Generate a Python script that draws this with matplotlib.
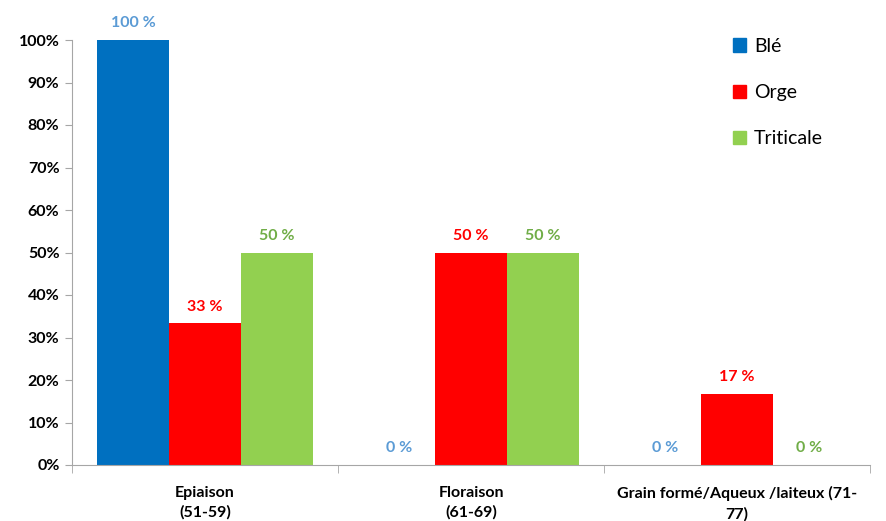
import numpy as np
import matplotlib.pyplot as plt
from matplotlib.patches import Patch
from matplotlib.ticker import FixedLocator, NullFormatter

plt.rcParams['font.family'] = ['Lato', 'DejaVu Sans']

categories = ["Epiaison\n(51-59)", "Floraison\n(61-69)", "Grain formé/Aqueux /laiteux (71-\n77)"]
series = ["Blé", "Orge", "Triticale"]
ble = [100.0, 0.0, 0.0]
orge = [33.3, 50.0, 16.7]
triticale = [50.0, 50.0, 0.0]
labels_ble = ["100 %", "0 %", "0 %"]
labels_orge = ["33 %", "50 %", "17 %"]
labels_triticale = ["50 %", "50 %", "0 %"]

bar_colors = ["#0070C0", "#FF0000", "#92D050"]
text_colors = ["#5B9BD5", "#FF0000", "#70AD47"]


def main():
    fig = plt.figure(figsize=(8.86, 5.21), dpi=100)
    ax = fig.add_axes([72 / 886, 1 - 465 / 521, (870 - 72) / 886, 425 / 521])

    x = np.arange(len(categories))
    width = 0.27
    data = [ble, orge, triticale]
    labs = [labels_ble, labels_orge, labels_triticale]
    for i, vals in enumerate(data):
        pos = x + (i - 1) * width
        ax.bar(pos, vals, width, color=bar_colors[i], label=series[i])
        for p, v, t in zip(pos, vals, labs[i]):
            ax.annotate(t, (p, v), xytext=(0, 7), textcoords="offset points",
                        ha="center", va="bottom", fontsize=11.5,
                        fontweight="bold", color=text_colors[i])

    ax.set_xlim(-0.5, len(categories) - 0.5)
    ax.set_ylim(0, 100)
    ax.set_yticks(np.arange(0, 101, 10))
    ax.set_yticklabels([f"{v}%" for v in range(0, 101, 10)],
                       fontsize=11.5, fontweight="bold")

    # category labels without ticks, separators as ticks
    ax.set_xticks(x)
    ax.set_xticklabels(categories, fontsize=11.5, fontweight="bold", linespacing=1.5)
    ax.tick_params(axis="x", which="major", length=0, pad=15)
    ax.xaxis.set_minor_locator(FixedLocator(np.arange(-0.5, len(categories), 1)))
    ax.xaxis.set_minor_formatter(NullFormatter())
    ax.tick_params(axis="x", which="minor", length=6, color="#A6A6A6")
    ax.tick_params(axis="y", length=5, color="#A6A6A6", pad=4)

    for s in ["top", "right"]:
        ax.spines[s].set_visible(False)
    for s in ["left", "bottom"]:
        ax.spines[s].set_color("#A6A6A6")

    handles = [Patch(color=c) for c in bar_colors]
    ax.legend(handles, series, loc="upper left", bbox_to_anchor=(0.806, 1.046),
              frameon=False, fontsize=14, handlelength=0.7, handleheight=0.7,
              handletextpad=0.4, labelspacing=1.5)

    fig.savefig("out.png", dpi=100)


if __name__ == "__main__":
    main()
